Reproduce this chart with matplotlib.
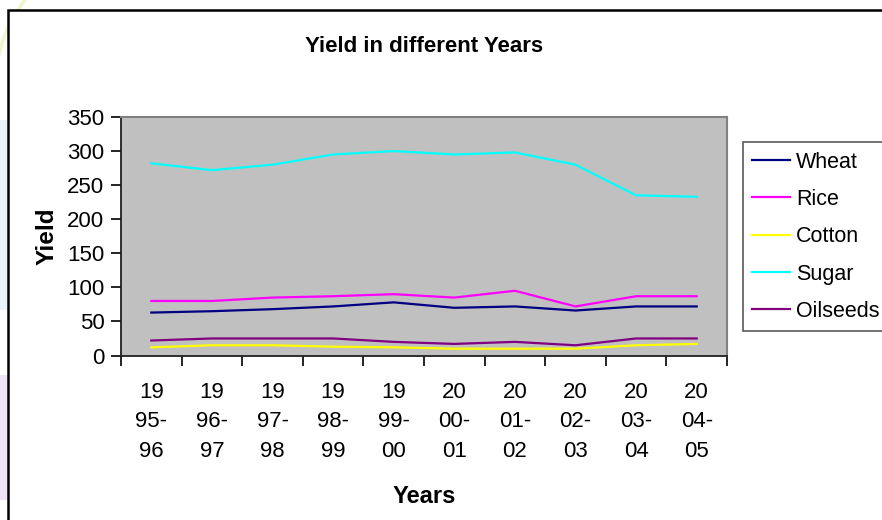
import matplotlib
matplotlib.use("Agg")
import matplotlib.pyplot as plt
from matplotlib.patches import Rectangle, Circle

plt.rcParams['font.family'] = ['Liberation Sans', 'DejaVu Sans']

# Crop years and yields
years = ["1995-96", "1996-97", "1997-98", "1998-99", "1999-00",
         "2000-01", "2001-02", "2002-03", "2003-04", "2004-05"]
wheat = [63, 65, 68, 72, 78, 70, 72, 66, 72, 72]
rice = [80, 80, 85, 87, 90, 85, 95, 72, 87, 87]
cotton = [12, 15, 15, 13, 12, 10, 10, 10, 15, 17]
sugar = [282, 272, 280, 295, 300, 295, 298, 280, 235, 233]
oilseeds = [22, 25, 25, 25, 20, 17, 20, 15, 25, 25]

series = [
    ("Wheat", wheat, "#000080"),
    ("Rice", rice, "#FF00FF"),
    ("Cotton", cotton, "#FFFF00"),
    ("Sugar", sugar, "#00FFFF"),
    ("Oilseeds", oilseeds, "#800080"),
]

W, H = 882, 520
fig = plt.figure(figsize=(W / 100, H / 100), dpi=100)
fig.patch.set_facecolor("white")

# faint slide decorations around the chart frame
deco = fig.add_axes([0, 0, 1, 1], zorder=-5)
deco.set_xlim(0, W)
deco.set_ylim(H, 0)
deco.axis("off")
ring = Circle((132.5, 85), 137, fill=False, edgecolor="#EEF5CF", lw=2.5)
deco.add_patch(ring)
ring.set_clip_path(Rectangle((0, 0), 30, 60, transform=deco.transData))
deco.add_patch(Rectangle((0, 120), 8, 190, color="#EAF3FA", lw=0))
deco.add_patch(Rectangle((0, 375), 8, 125, color="#EFE3F8", lw=0))

# chart frame with a white interior
deco.add_patch(Rectangle((8, 10), 900, 540, facecolor="white", edgecolor="black", lw=1.8))

left, right, top, bottom = 121, 727, 117, 355.5
ax = fig.add_axes([left / W, 1 - bottom / H, (right - left) / W, (bottom - top) / H])
ax.set_facecolor("#C0C0C0")

x = list(range(len(years)))
for name, vals, col in series:
    ax.plot(x, vals, color=col, lw=1.6, label=name, solid_joinstyle="miter")

ax.set_xlim(-0.5, len(years) - 0.5)
ax.set_ylim(0, 350)
ax.set_yticks(range(0, 351, 50))

# category boundaries carry the tick marks, labels sit at the centers
ax.set_xticks([i - 0.5 for i in range(len(years) + 1)])
ax.set_xticklabels([])
ax.set_xticks(x, minor=True)
labels = [f"{y[:2]}\n{y[2:5]}\n{y[5:]}" for y in years]
ax.set_xticklabels(labels, minor=True, linespacing=1.52)
ax.tick_params(axis="x", which="minor", length=0, pad=19, labelsize=16)
ax.tick_params(axis="x", which="major", length=7, width=1.2, direction="out")
ax.tick_params(axis="y", length=7, width=1.2, direction="out", pad=5, labelsize=16)

for s in ("top", "right"):
    ax.spines[s].set_color("#808080")
    ax.spines[s].set_linewidth(1.5)
for s in ("left", "bottom"):
    ax.spines[s].set_color("#202020")
    ax.spines[s].set_linewidth(1.3)

ax.set_ylabel("Yield", fontsize=17.5, fontweight="bold", labelpad=6)
ax.set_xlabel("Years", fontsize=17, fontweight="bold", labelpad=17)

fig.text(424 / W, 1 - 46 / H, "Yield in different Years", ha="center", va="center",
         fontsize=16, fontweight="bold")

leg = ax.legend(loc="upper left", bbox_to_anchor=(743 / W, 1 - 142.5 / H),
                bbox_transform=fig.transFigure, fontsize=15.5, frameon=True,
                fancybox=False, edgecolor="#303030", handlelength=1.75,
                handletextpad=0.3, labelspacing=0.76, borderpad=0.42,
                borderaxespad=0)
leg.get_frame().set_linewidth(1.2)
leg.get_frame().set_facecolor("white")

fig.savefig("out.png", dpi=100)
